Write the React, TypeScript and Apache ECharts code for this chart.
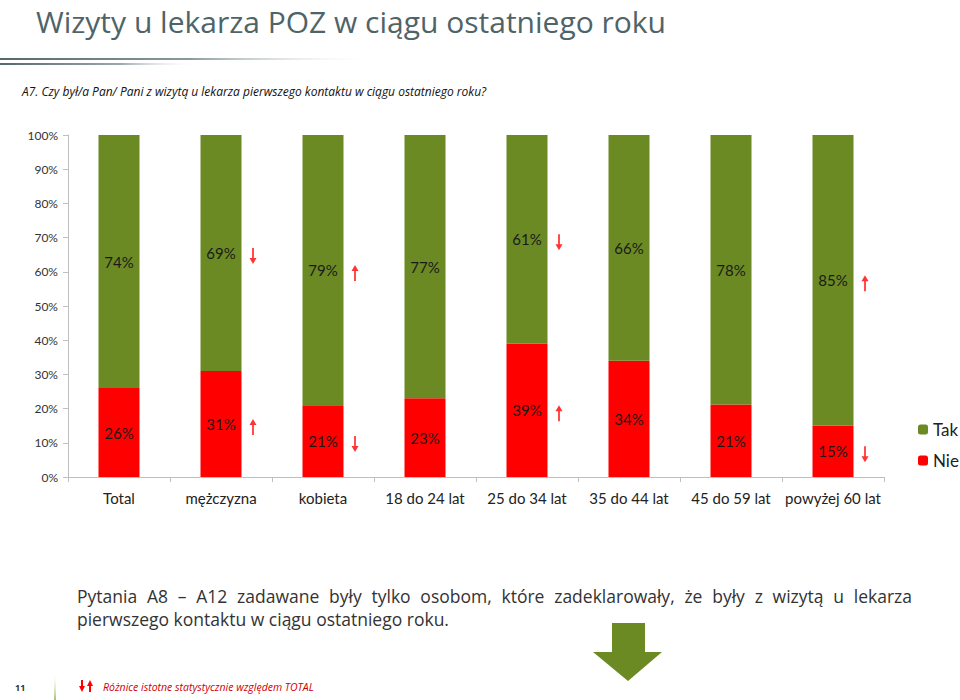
import React, { useEffect, useRef } from "react";
import * as echarts from "echarts";

const categories = ["Total", "mężczyzna", "kobieta", "18 do 24 lat", "25 do 34 lat", "35 do 44 lat", "45 do 59 lat", "powyżej 60 lat"];
const nieValues = [26, 31, 21, 23, 39, 34, 21, 15];
const takValues = [74, 69, 79, 77, 61, 66, 78, 85];
const takArrows = ["", "down", "up", "", "down", "", "", "up"];
const nieArrows = ["", "up", "down", "", "up", "", "", "down"];

const noteLine1 = "Pytania A8 – A12 zadawane były tylko osobom, które zadeklarowały, że były z wizytą u lekarza";
const noteLine2 = "pierwszego kontaktu w ciągu ostatniego roku.";

const GREEN = "#6b8a23";
const RED = "#ff0000";
const UP = "path://M4,0 L8,6 L5,6 L5,16 L3,16 L3,6 L0,6 Z";
const DOWN = "path://M3,0 L5,0 L5,10 L8,10 L4,16 L0,10 L3,10 Z";

function justifiedWords(text: string, x0: number, x1: number, y: number, font: string, style: any) {
  const words = text.split(" ");
  const canvas = document.createElement("canvas");
  const ctx = canvas.getContext("2d")!;
  ctx.font = font;
  const widths = words.map((w) => ctx.measureText(w).width);
  const total = widths.reduce((a, b) => a + b, 0);
  const gap = (x1 - x0 - total) / (words.length - 1);
  let x = x0;
  return words.map((w, i) => {
    const el = { type: "text", x, y, style: { ...style, text: w } };
    x += widths[i] + gap;
    return el;
  });
}

export default function App() {
  const ref = useRef<HTMLDivElement>(null);
  useEffect(() => {
    if (!ref.current) return;
    const chart = echarts.init(ref.current, null, { renderer: "svg" });
    const sums = categories.map((_, i) => nieValues[i] + takValues[i]);
    const nieShare = nieValues.map((v, i) => ({ value: (v / sums[i]) * 100, raw: v }));
    const takShare = takValues.map((v, i) => ({ value: (v / sums[i]) * 100, raw: v }));
    const arrowPoints: any[] = [];
    categories.forEach((c, i) => {
      const n = nieShare[i].value;
      const t = takShare[i].value;
      if (takArrows[i]) arrowPoints.push({ value: [c, n + t / 2], symbol: takArrows[i] === "up" ? UP : DOWN });
      if (nieArrows[i]) arrowPoints.push({ value: [c, n / 2], symbol: nieArrows[i] === "up" ? UP : DOWN });
    });
    const labelStyle = {
      show: true,
      position: "inside",
      color: "#1a1a1a",
      fontSize: 15,
      fontFamily: "Lato",
      formatter: (p: any) => p.data.raw + "%",
    };
    const noteStyle = { fontSize: 17.5, fontFamily: "Open Sans", fill: "#333", textVerticalAlign: "middle" };
    chart.setOption({
      animation: false,
      grid: { left: 68, right: 76, top: 135, bottom: 223 },
      legend: {
        data: ["Tak", "Nie"],
        orient: "vertical",
        left: 913,
        top: 416,
        itemWidth: 10,
        itemHeight: 10,
        itemGap: 14,
        textStyle: { fontSize: 17, color: "#222", fontFamily: "Lato" },
      },
      xAxis: {
        type: "category",
        data: categories,
        axisLine: { lineStyle: { color: "#bfbfbf" } },
        axisTick: { show: true, interval: 0, lineStyle: { color: "#bfbfbf" } },
        axisLabel: { interval: 0, color: "#222", fontSize: 15, fontFamily: "Lato", margin: 13 },
      },
      yAxis: {
        type: "value",
        min: 0,
        max: 100,
        interval: 10,
        axisLine: { show: true, lineStyle: { color: "#bfbfbf" } },
        axisTick: { show: true, lineStyle: { color: "#bfbfbf" } },
        splitLine: { show: false },
        axisLabel: { formatter: "{value}%", color: "#333", fontSize: 12, fontFamily: "Lato", margin: 10 },
      },
      series: [
        { name: "Nie", type: "bar", stack: "a", data: nieShare, barWidth: 41, itemStyle: { color: RED }, label: labelStyle },
        { name: "Tak", type: "bar", stack: "a", data: takShare, barWidth: 41, itemStyle: { color: GREEN }, label: labelStyle },
        {
          name: "arrows",
          type: "scatter",
          data: arrowPoints,
          symbolSize: [7, 16],
          symbolOffset: [32, 3],
          itemStyle: { color: RED },
          silent: true,
          z: 5,
        },
      ],
      graphic: [
        { type: "text", x: 36, y: 21, style: { text: "Wizyty u lekarza POZ w ciągu ostatniego roku", fontSize: 30, lineHeight: 32, fontFamily: "Open Sans", fill: "#4e6468", textVerticalAlign: "middle" } },
        {
          type: "rect",
          shape: { x: 0, y: 58, width: 380, height: 2 },
          style: { fill: new echarts.graphic.LinearGradient(0, 0, 1, 0, [{ offset: 0, color: "#55686c" }, { offset: 0.5, color: "#8a9a9c" }, { offset: 1, color: "rgba(255,255,255,0)" }]) },
        },
        {
          type: "rect",
          shape: { x: 0, y: 63, width: 200, height: 2 },
          style: { fill: new echarts.graphic.LinearGradient(0, 0, 1, 0, [{ offset: 0, color: "#55686c" }, { offset: 0.6, color: "#9aa8aa" }, { offset: 1, color: "rgba(255,255,255,0)" }]) },
        },
        { type: "text", x: 22, y: 91, style: { text: "A7. Czy był/a Pan/ Pani z wizytą u lekarza pierwszego kontaktu w ciągu ostatniego roku?", fontSize: 12, fontStyle: "italic", fontFamily: "Open Sans", fill: "#111", textVerticalAlign: "middle" } },
        ...justifiedWords(noteLine1, 77, 912, 596, "17.5px 'Open Sans'", noteStyle),
        { type: "text", x: 77, y: 619, style: { ...noteStyle, text: noteLine2 } },
        {
          type: "polygon",
          shape: { points: [[612, 623], [645, 623], [645, 652], [662, 652], [628, 681], [593, 652], [612, 652]] },
          style: { fill: GREEN },
        },
        { type: "text", x: 15, y: 687, style: { text: "11", fontSize: 9, fontFamily: "Open Sans", fill: "#333", fontWeight: "bold", textVerticalAlign: "middle" } },
        {
          type: "rect",
          shape: { x: 54, y: 672, width: 2, height: 28 },
          style: { fill: new echarts.graphic.LinearGradient(0, 0, 0, 1, [{ offset: 0, color: "rgba(255,255,255,0)" }, { offset: 1, color: "#a9bf70" }]) },
        },
        {
          type: "polygon",
          shape: { points: [[81, 680], [83, 680], [83, 686], [85, 686], [82, 692], [79, 686], [81, 686]] },
          style: { fill: RED },
        },
        {
          type: "polygon",
          shape: { points: [[90, 680], [93, 686], [91, 686], [91, 692], [89, 692], [89, 686], [87, 686]] },
          style: { fill: RED },
        },
        { type: "text", x: 103, y: 687, style: { text: "Różnice istotne statystycznie względem TOTAL", fontSize: 10.5, fontStyle: "italic", fontFamily: "Open Sans", fill: "#d00000", textVerticalAlign: "middle" } },
      ],
    });
    return () => chart.dispose();
  }, []);
  return <div ref={ref} style={{ width: 960, height: 700, position: "absolute", left: 0, top: 0 }} />;
}
